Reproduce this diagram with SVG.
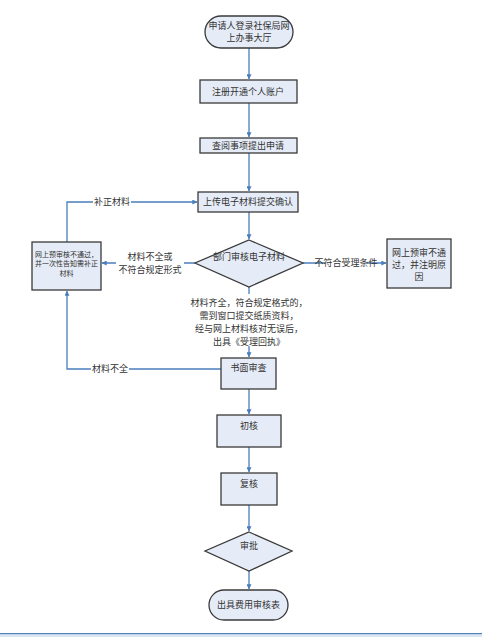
<svg xmlns="http://www.w3.org/2000/svg" width="482" height="637" viewBox="0 0 482 637">
<defs>
<marker id="arr" viewBox="0 0 8 8" refX="7.5" refY="4" markerWidth="5" markerHeight="5" orient="auto" markerUnits="userSpaceOnUse">
<path d="M0,0 L8,4 L0,8 Z" fill="#4a7ebb"/>
</marker>
<style>
.n{fill:#e6ecf7;stroke:#3a3a3a;stroke-width:1.3}
.t{font-family:"Noto Sans CJK SC","Liberation Serif",serif;font-size:9px;fill:#333;text-anchor:middle}
.s{font-size:7px}
.c{fill:none;stroke:#4a7ebb;stroke-width:1.3}
.l{font-family:"Noto Sans CJK SC","Liberation Serif",serif;font-size:9px;fill:#333;text-anchor:middle}
.bg{fill:#fff}
</style>
</defs>
<rect width="482" height="637" fill="#fff"/>
<g id="connectors">
<path class="c" d="M249,48 V79" marker-end="url(#arr)"/>
<path class="c" d="M249,103 V137" marker-end="url(#arr)"/>
<path class="c" d="M249,153 V191" marker-end="url(#arr)"/>
<path class="c" d="M249,212 V239" marker-end="url(#arr)"/>
<path class="c" d="M303,263 H386" marker-end="url(#arr)"/>
<path class="c" d="M195,263 H102" marker-end="url(#arr)"/>
<path class="c" d="M67,242 V202 H197" marker-end="url(#arr)"/>
<path class="c" d="M249,287 V357" marker-end="url(#arr)"/>
<path class="c" d="M221,369 H67 V291" marker-end="url(#arr)"/>
<path class="c" d="M249,389 V414" marker-end="url(#arr)"/>
<path class="c" d="M249,447 V472" marker-end="url(#arr)"/>
<path class="c" d="M249,505 V531" marker-end="url(#arr)"/>
<path class="c" d="M249,571 V589" marker-end="url(#arr)"/>
<rect class="bg" x="325" y="256" width="42" height="13"/>
<text class="l" x="346" y="266">不符合受理条件</text>
<rect class="bg" x="116" y="250" width="68" height="26"/>
<text class="l" x="150" y="260">材料不全或</text>
<text class="l" x="150" y="273">不符合规定形式</text>
<rect class="bg" x="93" y="196" width="38" height="12"/>
<text class="l" x="112" y="205">补正材料</text>
<rect class="bg" x="178" y="294" width="142" height="52"/>
<text class="l" x="249" y="306">材料齐全，符合规定格式的，</text>
<text class="l" x="249" y="319">需到窗口提交纸质资料，</text>
<text class="l" x="249" y="332">经与网上材料核对无误后，</text>
<text class="l" x="249" y="345">出具《受理回执》</text>
<rect class="bg" x="91" y="363" width="38" height="12"/>
<text class="l" x="110" y="372">材料不全</text>
</g>
<g id="start">
<rect class="n" x="205" y="16" width="88" height="32" rx="16"/>
<text class="t" x="249" y="29">申请人登录社保局网</text>
<text class="t" x="249" y="41">上办事大厅</text>
</g>
<g id="register">
<rect class="n" x="200" y="80" width="97" height="23"/>
<text class="t" x="248" y="95">注册开通个人账户</text>
</g>
<g id="query">
<rect class="n" x="200" y="138" width="97" height="15"/>
<text class="t" x="248" y="149">查阅事项提出申请</text>
</g>
<g id="upload">
<rect class="n" x="198" y="192" width="100" height="20"/>
<text class="t" x="248" y="205">上传电子材料提交确认</text>
</g>
<g id="review">
<polygon class="n" points="249,240 303,263 249,287 195,263"/>
<text class="t" x="249" y="260">部门审核电子材料</text>
</g>
<g id="reject">
<rect class="n" x="387" y="239" width="64" height="49"/>
<text class="t" x="419" y="256">网上预审不通</text>
<text class="t" x="419" y="268">过，并注明原</text>
<text class="t" x="419" y="280">因</text>
</g>
<g id="supplement">
<rect class="n" x="32" y="242" width="69" height="48"/>
<text class="t s" x="66.5" y="257">网上预审核不通过，</text>
<text class="t s" x="66.5" y="266">并一次性告知需补正</text>
<text class="t s" x="66.5" y="276">材料</text>
</g>
<g id="paper">
<rect class="n" x="221" y="358" width="55" height="31"/>
<text class="t" x="248.5" y="371">书面审查</text>
</g>
<g id="first">
<rect class="n" x="217" y="415" width="64" height="32"/>
<text class="t" x="249" y="429">初核</text>
</g>
<g id="second">
<rect class="n" x="221" y="473" width="56" height="32"/>
<text class="t" x="249" y="487">复核</text>
</g>
<g id="approve">
<polygon class="n" points="249,532 292,551 249,571 205,551"/>
<text class="t" x="249" y="549">审批</text>
</g>
<g id="end">
<rect class="n" x="209" y="590" width="79" height="30" rx="15"/>
<text class="t" x="248.5" y="608">出具费用审核表</text>
</g>
<rect x="0" y="633" width="482" height="1.5" fill="#4f81bd"/>
<rect x="0" y="634.5" width="482" height="2.5" fill="#dce6f2"/>
</svg>
